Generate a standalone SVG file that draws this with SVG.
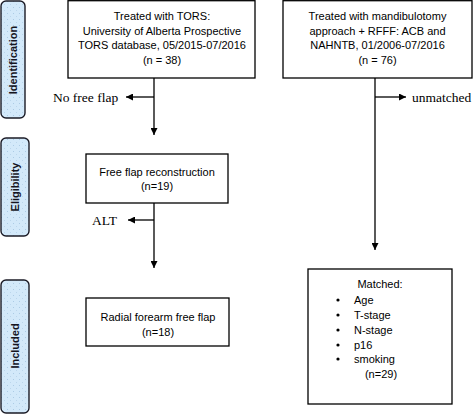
<svg xmlns="http://www.w3.org/2000/svg" width="473" height="414" viewBox="0 0 473 414">
<style>
.box{fill:#fff;stroke:#000;stroke-width:1.3}
.side{fill:url(#dots);stroke:#1b1b26;stroke-width:1.4}
.sl{font-family:"Liberation Sans",Arial,sans-serif;font-size:11px;font-weight:bold;fill:#15151f;text-anchor:middle}
.t{font-family:"Liberation Sans",Arial,sans-serif;font-size:11px;fill:#000;text-anchor:middle}
.tl{font-family:"Liberation Sans",Arial,sans-serif;font-size:11px;fill:#000}
.lab{font-family:"Liberation Serif","Times New Roman",serif;font-size:13.5px;fill:#000}
.con{stroke:#000;stroke-width:1.3;fill:none}
</style>
<defs>
<pattern id="dots" width="6" height="6" patternUnits="userSpaceOnUse">
<rect width="6" height="6" fill="#d3e9fa"/>
<circle cx="1.5" cy="1.5" r="0.5" fill="#9fc2de"/>
<circle cx="4.5" cy="4.5" r="0.5" fill="#b3d0e8"/>
</pattern>
<marker id="ah" viewBox="0 0 10 10" refX="10" refY="5" markerWidth="7" markerHeight="7" markerUnits="userSpaceOnUse" orient="auto">
<path d="M0,0 L10,5 L0,10 z" fill="#000"/>
</marker>
</defs>
<g id="side-identification">
<rect class="side" x="1" y="1" width="24" height="117" rx="5"/>
<text class="sl" transform="translate(17,60) rotate(-90)">Identification</text>
</g>
<g id="side-eligibility">
<rect class="side" x="1" y="138" width="28" height="98" rx="5"/>
<text class="sl" transform="translate(19,187) rotate(-90)">Eligibility</text>
</g>
<g id="side-included">
<rect class="side" x="1" y="280" width="28" height="133" rx="5"/>
<text class="sl" transform="translate(19,346) rotate(-90)">Included</text>
</g>
<g id="tors">
<rect class="box" x="68" y="0.7" width="187" height="77.3"/>
<text class="t" x="162" y="20">Treated with TORS:</text>
<text class="t" x="162" y="34.5">University of Alberta Prospective</text>
<text class="t" x="162" y="49">TORS database, 05/2015-07/2016</text>
<text class="t" x="162" y="63.5">(n = 38)</text>
</g>
<g id="mandib">
<rect class="box" x="283" y="0.7" width="189" height="77.3"/>
<text class="t" x="377.5" y="20">Treated with mandibulotomy</text>
<text class="t" x="377.5" y="34.5">approach + RFFF: ACB and</text>
<text class="t" x="377.5" y="49">NAHNTB, 01/2006-07/2016</text>
<text class="t" x="377.5" y="63.5">(n = 76)</text>
</g>
<g id="freeflap">
<rect class="box" x="86" y="154" width="142" height="49"/>
<text class="t" x="157" y="176">Free flap reconstruction</text>
<text class="t" x="157" y="190">(n=19)</text>
</g>
<g id="radial">
<rect class="box" x="86" y="298" width="143" height="48"/>
<text class="t" x="158" y="321">Radial forearm free flap</text>
<text class="t" x="158" y="336">(n=18)</text>
</g>
<g id="matched">
<rect class="box" x="308" y="269" width="144" height="135"/>
<text class="t" x="380" y="288">Matched:</text>
<g class="tl">
<circle cx="338" cy="300" r="1.6"/><text x="354" y="304">Age</text>
<circle cx="338" cy="315" r="1.6"/><text x="354" y="319">T-stage</text>
<circle cx="338" cy="330" r="1.6"/><text x="354" y="334">N-stage</text>
<circle cx="338" cy="345" r="1.6"/><text x="354" y="349">p16</text>
<circle cx="338" cy="359" r="1.6"/><text x="354" y="363">smoking</text>
</g>
<text class="t" x="381" y="378">(n=29)</text>
</g>
<g id="connectors">
<line class="con" x1="154" y1="78" x2="154" y2="135" marker-end="url(#ah)"/>
<line class="con" x1="154" y1="97" x2="126" y2="97" marker-end="url(#ah)"/>
<line class="con" x1="154" y1="203" x2="154" y2="268" marker-end="url(#ah)"/>
<line class="con" x1="154" y1="220" x2="128" y2="220" marker-end="url(#ah)"/>
<line class="con" x1="375" y1="78" x2="375" y2="250" marker-end="url(#ah)"/>
<line class="con" x1="375" y1="97" x2="406" y2="97" marker-end="url(#ah)"/>
<text class="lab" x="53" y="102">No free flap</text>
<text class="lab" x="92" y="225">ALT</text>
<text class="lab" x="412" y="102">unmatched</text>
</g>
</svg>
